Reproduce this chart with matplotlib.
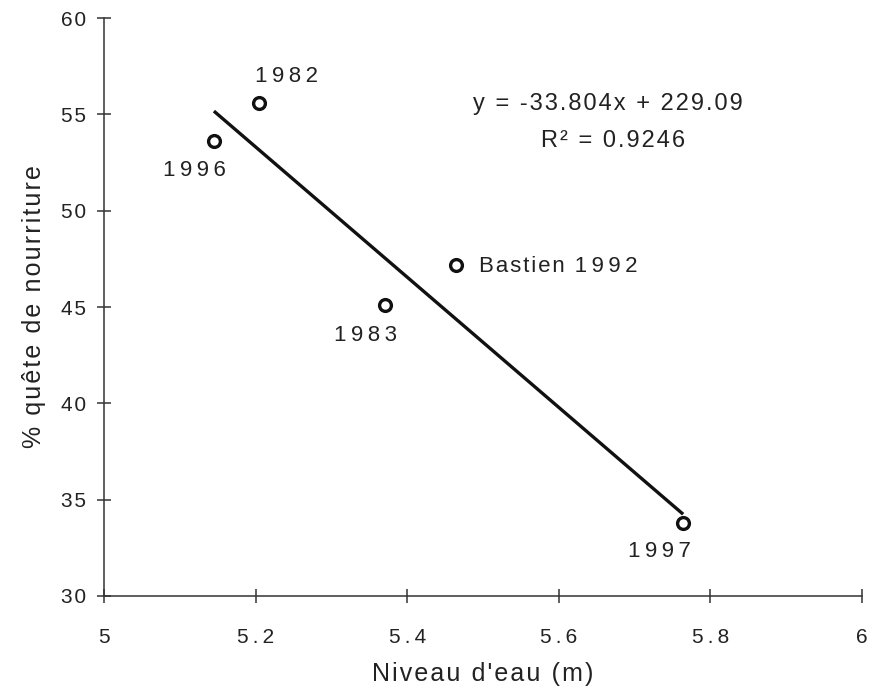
import numpy as np
import matplotlib
matplotlib.use("Agg")
import matplotlib.pyplot as plt

plt.rcParams['font.family'] = ['Liberation Sans', 'DejaVu Sans']

# Water level (m) vs % time foraging
labels = ["1996", "1982", "1983", "Bastien 1992", "1997"]
niveau = [5.145, 5.204, 5.371, 5.464, 5.764]
quete = [53.6, 55.6, 45.1, 47.2, 33.8]
xticks = [5, 5.2, 5.4, 5.6, 5.8, 6]
xticklabels = ["5", "5.2", "5.4", "5.6", "5.8", "6"]
yticks = [30, 35, 40, 45, 50, 55, 60]

# label offsets (points) and alignment
offsets = [(-14, -21), (20, 19), (-14, -22), (17, -1), (-17, -21)]
aligns = ["center", "center", "center", "left", "center"]

slope, intercept, r2 = -33.804, 229.09, 0.9246

HAIR = "\u200a"
THIN = "\u2009"


def spaced(s, sp=HAIR, digits=None):
    # old typewriter look: a bit of extra room between letters
    out = s[0]
    for a, b in zip(s, s[1:]):
        if digits and a.isdigit() and b.isdigit():
            out += digits
        else:
            out += sp
        out += b
    return out


fig = plt.figure(figsize=(8.71, 6.99), dpi=100)
ax = fig.add_axes([0.1194, 0.1474, 0.8703, 0.8268])

# regression line over the data range
xs = np.array([min(niveau), max(niveau)])
ax.plot(xs, slope * xs + intercept, color="#111111", lw=2.4, solid_capstyle="butt")

ax.plot(niveau, quete, "o", ms=8.5, mfc="white", mec="#111111", mew=2.4, zorder=3)

for lab, x, y, off, ha in zip(labels, niveau, quete, offsets, aligns):
    ax.annotate(spaced(lab, HAIR, THIN), (x, y), xytext=off, textcoords="offset points",
                ha=ha, va="center", fontsize=16, color="#222222")

ax.text(0.665, 0.852, spaced(f"y = {slope}x + {intercept}"), transform=ax.transAxes,
        ha="center", va="center", fontsize=17, color="#222222")
ax.text(0.671, 0.787, spaced(f"R² = {r2}"), transform=ax.transAxes,
        ha="center", va="center", fontsize=17, color="#222222")

ax.set_xlim(5, 6)
ax.set_ylim(30, 60)
ax.set_xticks(xticks)
ax.set_xticklabels([spaced(t, THIN) for t in xticklabels])
ax.set_yticks(yticks)
ax.set_yticklabels([spaced(str(t), HAIR) for t in yticks])

for s in ["top", "right"]:
    ax.spines[s].set_visible(False)
for s in ["left", "bottom"]:
    ax.spines[s].set_linewidth(1.1)
    ax.spines[s].set_color("#333333")

ax.tick_params(axis="both", direction="inout", length=10, width=1.1,
               color="#333333", labelsize=15, labelcolor="#222222")
ax.tick_params(axis="x", pad=18)
ax.tick_params(axis="y", pad=8)

ax.set_xlabel(spaced("Niveau d'eau (m)"), fontsize=18, color="#222222", labelpad=11)
ax.set_ylabel(spaced("% quête de nourriture"), fontsize=18, color="#222222", labelpad=11)

fig.savefig("out.png", dpi=100)
